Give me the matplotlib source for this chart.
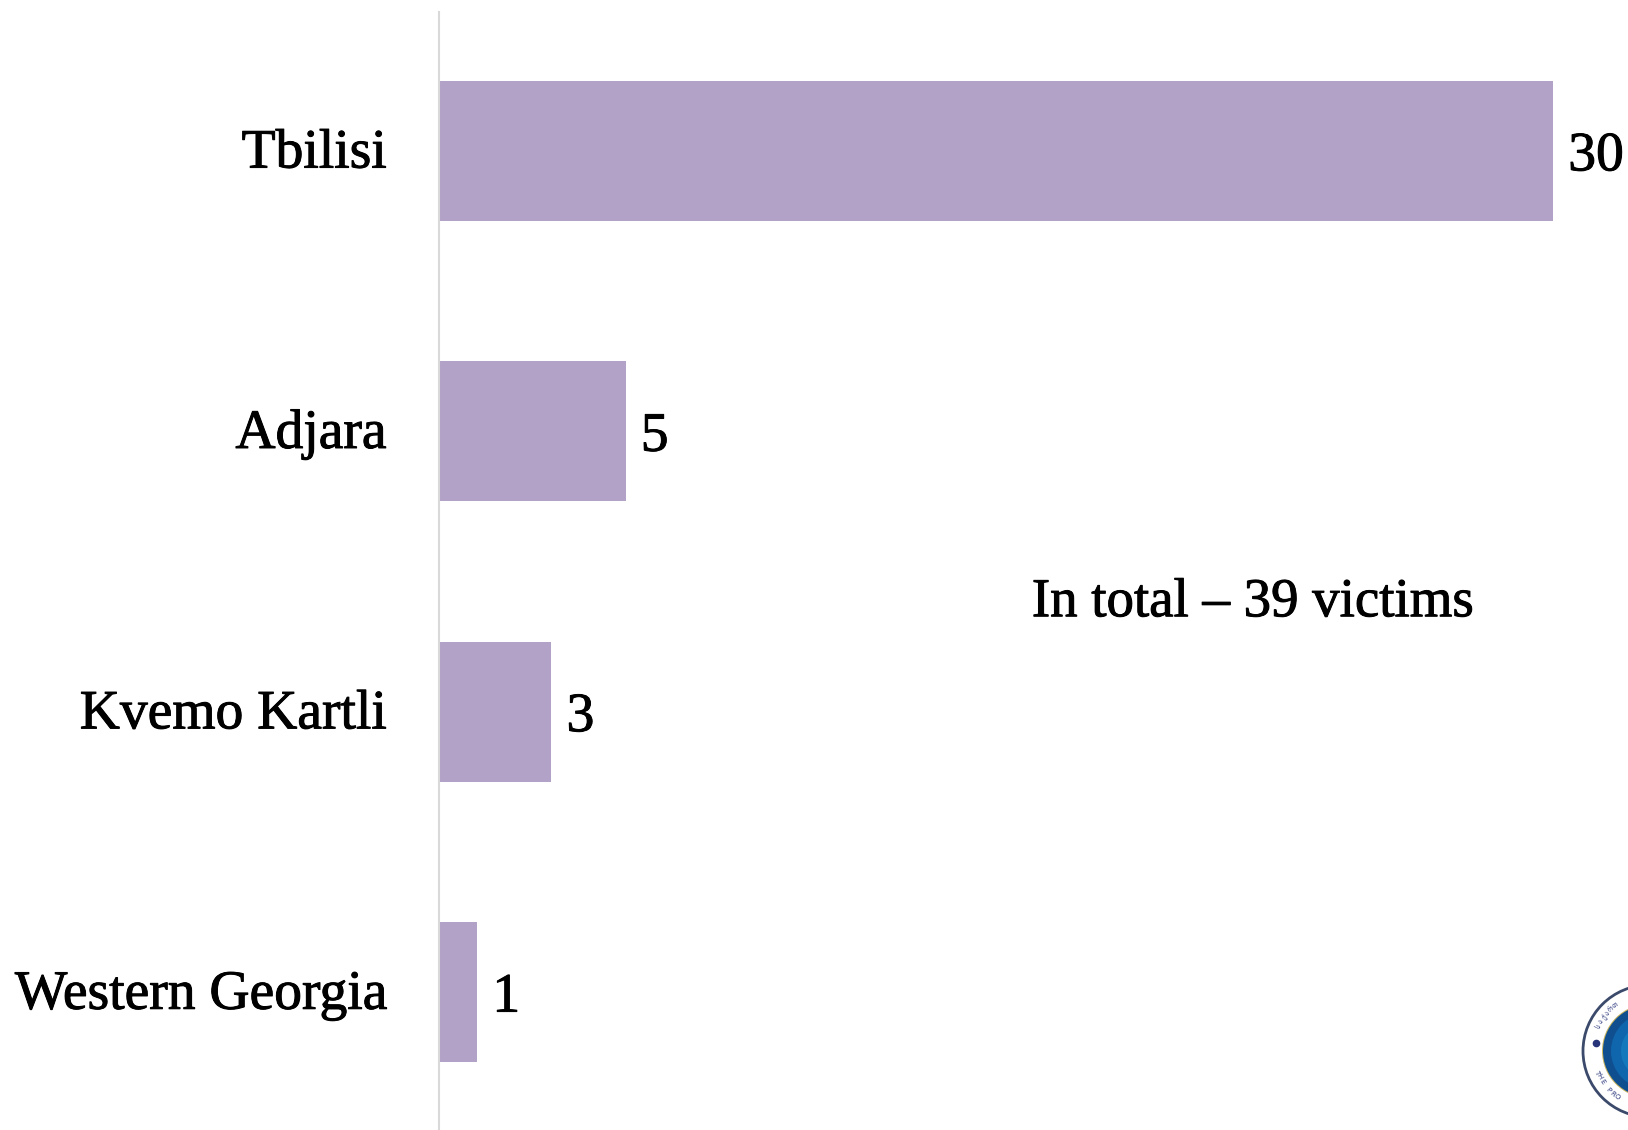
import numpy as np
import matplotlib.pyplot as plt
import matplotlib.patheffects as pe
from matplotlib.patches import Circle

regions = ['Tbilisi', 'Adjara', 'Kvemo Kartli', 'Western Georgia']
victims = [30, 5, 3, 1]
note = 'In total – 39 victims'
seal_top = 'საქართველოს პროკურატურა'
seal_bottom = "THE PROSECUTOR'S OFFICE OF GEORGIA"

W, H = 1628, 1130
plt.rcParams['font.family'] = ['Liberation Serif', 'DejaVu Serif']
heavy = [pe.withStroke(linewidth=0.7, foreground='black')]

fig = plt.figure(figsize=(W / 100, H / 100), dpi=100)
ax = fig.add_axes([440 / W, 0, (1553 - 440) / W, 1 - 12 / H])

y = list(range(len(regions)))
ax.barh(y, victims, height=0.5, left=0, color='#b2a2c7')
ax.set_xlim(0, 30)
ax.set_ylim(3.492, -0.495)
ax.set_yticks(y)
ax.set_yticklabels([])
ax.tick_params(axis='y', length=0)
ax.xaxis.set_visible(False)
for s in ['top', 'right', 'bottom']:
    ax.spines[s].set_visible(False)
ax.spines['left'].set_color('#d9d9d9')
ax.spines['left'].set_linewidth(1.5)
ax.spines['left'].set_position(('outward', 0.7))

# region names, placed by hand so they can sit a little above the bar centre
for i, name in enumerate(regions):
    ax.annotate(name, (0, i), xytext=(-38.5, -2), textcoords='offset points',
                fontsize=40, va='center', ha='right', annotation_clip=False,
                path_effects=heavy)

for i, v in enumerate(victims):
    ax.annotate(str(v), (v, i), xytext=(11, -4), textcoords='offset points',
                fontsize=40, va='center', ha='left', annotation_clip=False,
                path_effects=heavy)

fig.text(1253 / W, 1 - 603 / H, note, fontsize=39.5, ha='center', va='center',
         path_effects=heavy)

# logo in the corner, cut off by the edge of the page
logo = fig.add_axes([0, 0, 1, 1], facecolor='none')
logo.set_xlim(0, W)
logo.set_ylim(H, 0)
logo.axis('off')
cx, cy = 1649, 1051
logo.add_patch(Circle((cx, cy), 66, fc='white', ec='#3b4a6b', lw=2))
logo.add_patch(Circle((cx, cy), 47, fc='#c9b45e', ec='none'))
for r, col in zip([46, 38, 28], ['#0f4f8f', '#0f66ac', '#1478bd']):
    logo.add_patch(Circle((cx, cy), r, fc=col, ec='none'))
logo.plot([1596], [1043], 'o', ms=4.5, color='#27347a')


def ring_text(text, start, step, upright_top):
    for k, ch in enumerate(text):
        ang = np.radians(start + step * k)
        x, y_ = cx + 56 * np.cos(ang), cy + 56 * np.sin(ang)
        rot = -np.degrees(ang) - 90 if upright_top else -np.degrees(ang) + 90
        if x < W - 8:
            logo.text(x, y_, ch, fontsize=5, rotation=rot, rotation_mode='anchor',
                      ha='center', va='center', color='#27347a',
                      family=['DejaVu Sans'])


ring_text(seal_top, 206, 5.5, True)
ring_text(seal_bottom, 158, -5.5, False)

fig.savefig('out.png', dpi=100)
